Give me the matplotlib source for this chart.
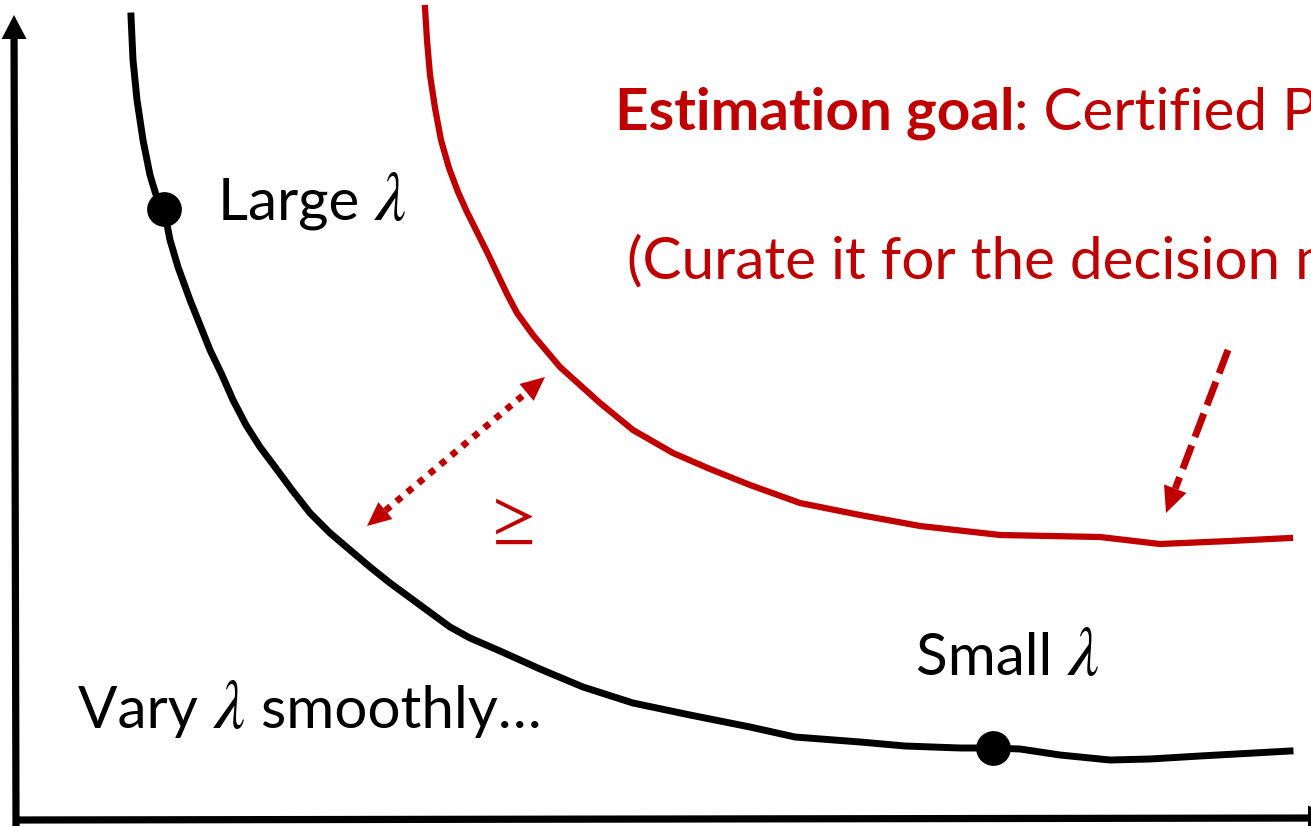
import matplotlib
matplotlib.use("Agg")
import matplotlib.pyplot as plt
from matplotlib.patches import Polygon
import numpy as np

plt.rcParams['font.family'] = ['Lato', 'DejaVu Sans']
plt.rcParams['mathtext.fontset'] = 'stix'

# ---- data (picture coordinates, y grows downward) ----
black_x = [131, 133, 137, 143, 150, 157, 164, 170, 178, 190, 200, 210, 222, 233, 246, 260, 275,
           292, 310, 330, 350, 370, 390, 420, 450, 470, 500, 540, 583, 633, 690, 750, 795, 860,
           905, 960, 993, 1020, 1060, 1110, 1150, 1200, 1290]
black_y = [16, 60, 100, 140, 175, 198, 209, 240, 267, 300, 325, 350, 375, 400, 425, 447, 467,
           490, 513, 533, 550, 567, 583, 605, 627, 638, 651, 669, 687, 703, 715, 727, 737, 742,
           746, 748, 748, 749, 755, 760, 759, 756, 751]

red_x = [425, 427, 430, 435, 441, 449, 458, 467, 477, 487, 497, 507, 517, 533, 560, 600, 633,
         673, 710, 750, 800, 860, 920, 1000, 1100, 1160, 1230, 1290]
red_y = [8, 40, 75, 108, 140, 168, 192, 212, 232, 252, 273, 294, 313, 335, 367, 403, 430,
         453, 469, 485, 503, 515, 526, 535, 537, 544, 541, 538]

dots_x = [164, 993]
dots_y = [209, 748]

label_words = ["Large", "Vary", "Small"]
label_tail = ["", " smoothly\u2026", ""]
labels_x = [218, 78, 916]
labels_y = [220, 728, 675]

goal_bold = "Estimation goal"
goal_rest = ": Certified Pareto frontier"
curate = "(Curate it for the decision maker)"

# axes arrows
yaxis_from, yaxis_to = (16, 826), (14, 15)
xaxis_from, xaxis_to = (14, 820), (1336, 818)
# double dotted arrow
gap_a, gap_b = (367, 526), (545, 377)
# dashed arrow
dash_from, dash_to = (1228, 350), (1166, 513)

RED = "#C00000"
FS = 42
LFS = 50

fig = plt.figure(figsize=(13.11, 8.26), dpi=100)
ax = fig.add_axes([0, 0, 1, 1])
ax.set_xlim(0, 1311)
ax.set_ylim(826, 0)
ax.axis('off')


def head(tip, frm, length, width, color):
    tip = np.array(tip, float)
    frm = np.array(frm, float)
    d = tip - frm
    d /= np.hypot(*d)
    n = np.array([-d[1], d[0]])
    base = tip - d * length
    tri = [tip, base + n * width / 2, base - n * width / 2]
    ax.add_patch(Polygon(tri, closed=True, color=color, lw=0, zorder=5))
    return base


def right_edge(t):
    fig.canvas.draw()
    bb = t.get_window_extent()
    return ax.transData.inverted().transform((bb.x1, bb.y0))[0]


# axes
b = head(yaxis_to, yaxis_from, 24, 25, 'black')
ax.plot([yaxis_from[0], b[0]], [yaxis_from[1], b[1]], color='black', lw=5.2,
        solid_capstyle='butt')
b = head(xaxis_to, xaxis_from, 28, 25, 'black')
ax.plot([xaxis_from[0], b[0]], [xaxis_from[1], b[1]], color='black', lw=5.2,
        solid_capstyle='butt')

# curves
ax.plot(black_x, black_y, color='black', lw=5.0, solid_joinstyle='round')
ax.plot(red_x, red_y, color=RED, lw=4.5, solid_joinstyle='round')
ax.plot(dots_x, dots_y, 'o', color='black', ms=24, zorder=6)

# double dotted arrow
b1 = head(gap_a, gap_b, 24, 22, RED)
b2 = head(gap_b, gap_a, 24, 22, RED)
ax.plot([b1[0], b2[0]], [b1[1], b2[1]], color=RED, lw=4.8, dashes=(1.0, 1.15),
        dash_capstyle='butt')

# dashed arrow
b = head(dash_to, dash_from, 26, 24, RED)
ax.plot([dash_from[0], b[0]], [dash_from[1], b[1]], color=RED, lw=5.0, dashes=(3.6, 1.3),
        dash_capstyle='butt')

# ≥ sign
ax.text(508, 538, "$\\geq$", color=RED, fontsize=46, ha='center', va='baseline')

# labels with λ
for w, tail, x, y in zip(label_words, label_tail, labels_x, labels_y):
    t = ax.text(x, y, w + " ", fontsize=FS, color='black', ha='left', va='baseline')
    xe = right_edge(t)
    t2 = ax.text(xe, y, "$\\lambda$", fontsize=LFS, color='black', ha='left', va='baseline')
    if tail:
        xe2 = right_edge(t2)
        ax.text(xe2, y, tail, fontsize=FS, color='black', ha='left', va='baseline')

t1 = ax.text(615, 130, goal_bold, fontsize=FS, color=RED, fontweight='bold',
             ha='left', va='baseline')
x1 = right_edge(t1)
ax.text(x1, 130, goal_rest, fontsize=FS, color=RED, ha='left', va='baseline')
ax.text(627, 278, curate, fontsize=FS, color=RED, ha='left', va='baseline')

fig.savefig("out.png", dpi=100)
